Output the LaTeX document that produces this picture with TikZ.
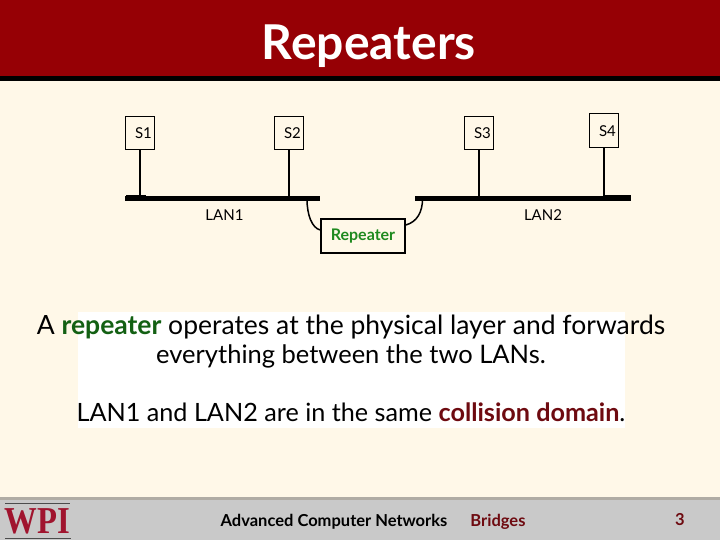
\documentclass[tikz,border=0pt]{standalone}
\usepackage{fontspec}
\setmainfont{Lato}
\newfontfamily\logofont{Liberation Serif}
\usetikzlibrary{positioning,calc}
\definecolor{slidebg}{HTML}{FFF8E8}
\definecolor{headred}{HTML}{960005}
\definecolor{footgray}{HTML}{C9C9C9}
\definecolor{footline}{HTML}{B0ACA4}
\definecolor{repgreen}{HTML}{1F8A1F}
\definecolor{darkgreen}{HTML}{136013}
\definecolor{collred}{HTML}{6E0A10}
\definecolor{logored}{HTML}{A0142E}
\tikzset{
  station/.style={draw,line width=1.5pt,fill=slidebg,minimum width=29pt,minimum height=33pt,inner sep=0pt,font=\fontsize{15}{17}\selectfont},
  bus/.style={line width=4.8pt},
  stub/.style={line width=1.5pt},
  lanlabel/.style={font=\fontsize{15}{17}\selectfont,inner sep=0pt},
  bodyline/.style={inner sep=0pt,anchor=base},
  footlabel/.style={font=\bfseries\fontsize{16.5}{18}\selectfont,inner sep=0pt,anchor=base}
}
\begin{document}
\begin{tikzpicture}[x=1pt,y=-1pt]
  \useasboundingbox (0,0) rectangle (720,540);
  % page
  \fill[slidebg] (0,0) rectangle (720,540);
  \fill[headred] (0,0) rectangle (720,76);
  \fill[black] (0,76) rectangle (720,81);
  \fill[footgray] (0,498) rectangle (720,540);
  \fill[footline] (0,497) rectangle (720,500);
  \fill[white] (78,312) rectangle (625,428);
  \node[text=white,font=\bfseries\fontsize{48}{52}\selectfont,inner sep=0pt,anchor=base] (title) at (369,60) {Repeaters};

  % stations
  \node[station] (s1) at (140,133) {\hspace{7pt}S1};
  \node[station] (s2) at (289,133) {\hspace{7pt}S2};
  \node[station] (s3) at (479,133) {\hspace{7pt}S3};
  \node[station,minimum height=34pt] (s4) at (604,130.7) {\hspace{7pt}S4};
  \coordinate (lan1w) at (125,198.4);
  \coordinate (lan1e) at (320,198.4);
  \coordinate (lan2w) at (415,198.4);
  \coordinate (lan2e) at (631,198.4);
  \draw[bus] (lan1w)--(lan1e);
  \draw[bus] (lan2w)--(lan2e);
  \draw[bus] ($(lan1w)+(1,-1)$)--+(20,0);
  \draw[bus] ($(lan2e)+(-27,-0.7)$)--(lan2e |- 0,197.7);
  \foreach \st in {s1,s2,s3,s4}
    \draw[stub] (\st.south)--(\st.south |- lan1w);
  \node[lanlabel] (lan1) at (224.5,215.5) {LAN1};
  \node[lanlabel] (lan2) at (543,215.5) {LAN2};

  % repeater
  \node[draw,line width=1.5pt,fill=slidebg,minimum width=84pt,minimum height=34pt,inner sep=0pt,text=repgreen,font=\bfseries\fontsize{16}{18}\selectfont] (rep) at (363,236) {Repeater};
  \draw[stub] (307,199) .. controls (307,215) and (312,228) .. ($(rep.west)+(0,-6)$);
  \draw[stub] (422.5,199) .. controls (422.5,212) and (417,222) .. ($(rep.east)+(0,-11)$);

  % text
  \node[bodyline,font=\fontsize{26.5}{28}\selectfont] (l1) at (351,334) {A \textcolor{darkgreen}{\textbf{repeater}} operates at the physical layer and forwards};
  \node[bodyline,font=\fontsize{25.5}{28}\selectfont] (l2) at (351,363) {everything between the two LANs.};
  \node[bodyline,font=\fontsize{25.2}{28}\selectfont] (l3) at (351,421) {LAN1 and LAN2 are in the same \textcolor{collred}{\textbf{collision domain}}.};

  % footer
  \node[footlabel] (course) at (334,526) {Advanced Computer Networks};
  \node[footlabel,text=collred] (chap) at (498,526) {Bridges};
  \node[footlabel,text=collred] (num) at (680,525) {3};
  \node[font=\logofont\bfseries\fontsize{38}{38}\selectfont,text=logored,inner sep=0pt,anchor=base] (logo) at (37.5,533) {\scalebox{.86}[1]{WPI}};
  \coordinate (logotw) at (5,503);
  \coordinate (logote) at (70,503);
  \coordinate (logobw) at (5,538);
  \coordinate (logobe) at (71,538);
  \draw[line width=0.8pt,black!70] (logotw)--(logote);
  \draw[line width=0.8pt,black!70] (logobw)--(logobe);
\end{tikzpicture}
\end{document}
